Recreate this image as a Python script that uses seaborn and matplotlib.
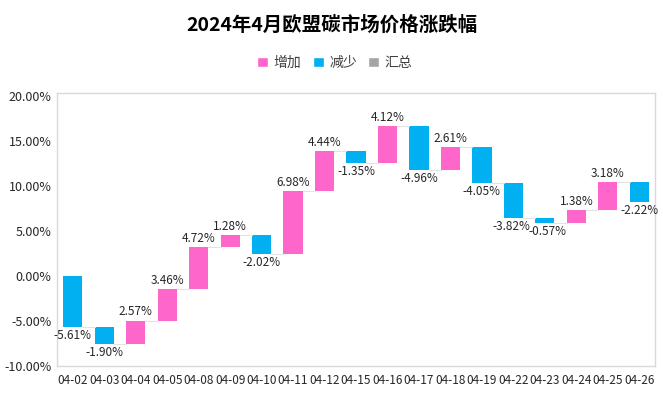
import matplotlib
matplotlib.use("Agg")
import matplotlib.pyplot as plt
import seaborn as sns
import numpy as np
import pandas as pd
from matplotlib.patches import Patch

dates = ["04-02", "04-03", "04-04", "04-05", "04-08", "04-09", "04-10", "04-11", "04-12", "04-15",
         "04-16", "04-17", "04-18", "04-19", "04-22", "04-23", "04-24", "04-25", "04-26"]
changes = [-5.61, -1.90, 2.57, 3.46, 4.72, 1.28, -2.02, 6.98, 4.44, -1.35,
           4.12, -4.96, 2.61, -4.05, -3.82, -0.57, 1.38, 3.18, -2.22]
yticks = [-10, -5, 0, 5, 10, 15, 20]
title = "2024年4月欧盟碳市场价格涨跌幅"
legend_labels = ["增加", "减少", "汇总"]

c_up = "#FF66CC"
c_down = "#00B0F0"
c_total = "#A5A5A5"

sns.set_theme(style="white")
plt.rcParams["font.family"] = ["Noto Sans CJK SC", "DejaVu Sans"]

ends = np.cumsum(changes)
starts = np.concatenate([[0.0], ends[:-1]])
bottoms = np.minimum(starts, ends)
heights = np.abs(changes)
df = pd.DataFrame({"date": dates, "height": heights})

fig = plt.figure(figsize=(6.63, 3.98), dpi=100)
ax = fig.add_axes([0.086, 0.080, 0.902, 0.686])

sns.barplot(data=df, x="date", y="height", color=c_up, width=0.61, ax=ax, saturation=1)
for p, b, v in zip(ax.patches, bottoms, changes):
    p.set_y(b)
    p.set_facecolor(c_up if v >= 0 else c_down)
    p.set_edgecolor("none")

# connectors
w = 0.61
for i in range(len(changes) - 1):
    ax.plot([i + w / 2, i + 1 - w / 2], [ends[i], ends[i]], color="#E3E3E3", lw=0.8, zorder=1)

# labels (small horizontal nudges keep adjacent low labels apart)
nudge = {14: -1.8, 15: 1.8}
for i, v in enumerate(changes):
    txt = f"{v:.2f}%"
    dx = nudge.get(i, 0)
    if v >= 0:
        ax.annotate(txt, (i, ends[i]), xytext=(dx, 1.5), textcoords="offset points",
                    ha="center", va="bottom", fontsize=8.5, color="#262626")
    else:
        ax.annotate(txt, (i, ends[i]), xytext=(dx, -1.5), textcoords="offset points",
                    ha="center", va="top", fontsize=8.5, color="#262626")

ax.set_xlim(-0.5, len(dates) - 0.5)
ax.set_ylim(-10, 20.3)
ax.set_yticks(yticks)
ax.set_yticklabels([f"{t:.2f}%" for t in yticks], fontsize=9, color="#262626")
ax.set_xticks(range(len(dates)))
ax.set_xticklabels(dates, fontsize=8.5, color="#262626")
ax.tick_params(axis="both", length=0, pad=4)
ax.tick_params(axis="x", pad=6)
ax.set_xlabel("")
ax.set_ylabel("")
for s in ax.spines.values():
    s.set_color("#D9D9D9")
    s.set_linewidth(1.0)
    s.set_visible(True)

fig.text(0.5, 0.937, title, ha="center", va="center", fontsize=14, fontweight="bold", color="#000000")

handles = [Patch(facecolor=c_up), Patch(facecolor=c_down), Patch(facecolor=c_total)]
fig.legend(handles, legend_labels, loc="center", bbox_to_anchor=(0.505, 0.842), ncol=3, frameon=False,
           fontsize=10, handlelength=0.8, handleheight=0.8, handletextpad=0.4, columnspacing=0.8,
           labelcolor="#404040")

fig.savefig("out.png", dpi=100)
